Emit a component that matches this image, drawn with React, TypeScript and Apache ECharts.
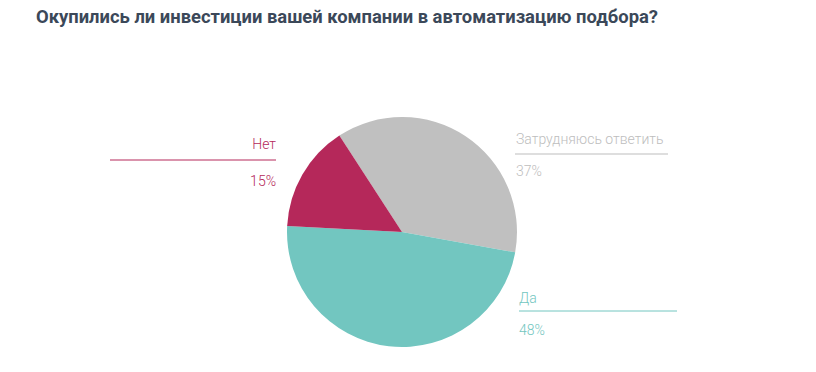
import React, { useEffect, useRef } from "react";
import * as echarts from "echarts";

const title = "Окупились ли инвестиции вашей компании в автоматизацию подбора?";
const categories = ["Затрудняюсь ответить", "Да", "Нет"];
const values = [37, 48, 15];
const colors = ["#c0c0c0", "#72c6c0", "#b5285a"];
const labelColors = ["#bdbdbd", "#72c6c0", "#b5285a"];

// label layout: [textX, nameY, lineY, pctY, lineX1, lineX2, align]
const labelLayout: [number, number, number, number, number, number, "left" | "right"][] = [
  [516, 139, 154, 171, 515, 668, "left"],
  [519, 298, 311, 330, 519, 677, "left"],
  [276, 144, 160, 181, 110, 276, "right"],
];

export default function App() {
  const ref = useRef<HTMLDivElement>(null);
  useEffect(() => {
    if (!ref.current) return;
    const chart = echarts.init(ref.current, null, { renderer: "svg" });
    const graphic: any[] = [
      {
        type: "text",
        left: 36,
        top: 7,
        style: {
          text: title,
          fontFamily: "Roboto",
          fontWeight: "bold",
          fontSize: 18.4,
          fill: "#3b4859",
        },
      },
    ];
    categories.forEach((c, i) => {
      const [tx, ny, ly, py, x1, x2, align] = labelLayout[i];
      graphic.push({
        type: "text",
        x: tx,
        y: ny,
        style: {
          text: c,
          fontFamily: "Roboto",
          fontWeight: 300,
          fontSize: 14,
          fill: labelColors[i],
          align,
          verticalAlign: "middle",
        },
      });
      graphic.push({
        type: "line",
        shape: { x1, y1: ly, x2, y2: ly },
        style: { stroke: labelColors[i], lineWidth: 1 },
      });
      graphic.push({
        type: "text",
        x: tx,
        y: py,
        style: {
          text: values[i] + "%",
          fontFamily: "Roboto",
          fontWeight: 300,
          fontSize: 14,
          fill: labelColors[i],
          align,
          verticalAlign: "middle",
        },
      });
    });
    chart.setOption({
      animation: false,
      graphic,
      series: [
        {
          type: "pie",
          center: [402, 232],
          radius: 115,
          startAngle: 123,
          clockwise: true,
          label: { show: false },
          labelLine: { show: false },
          emphasis: { disabled: true },
          data: categories.map((c, i) => ({
            name: c,
            value: values[i],
            itemStyle: { color: colors[i] },
          })),
        },
      ],
    });
    return () => chart.dispose();
  }, []);
  return (
    <div
      ref={ref}
      style={{ position: "fixed", left: 0, top: 0, width: 816, height: 372, background: "#fff" }}
    />
  );
}
